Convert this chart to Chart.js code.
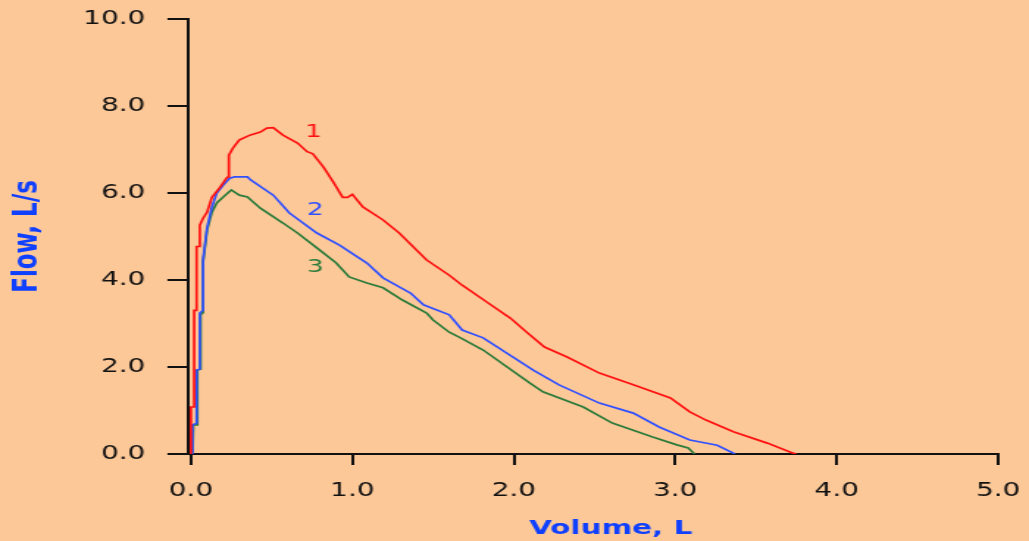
<!DOCTYPE html>
<html>
<head>
<meta charset="utf-8">
<script src="https://cdn.jsdelivr.net/npm/chart.js@4/dist/chart.umd.min.js"></script>
<style>
    html, body { margin: 0; padding: 0; background: #fcc898; overflow: hidden; }
    /* the reference is stretched sideways, so draw narrow and scale up */
    #wrap { width: 700px; height: 541px; transform: scaleX(1.47); transform-origin: 0 0; }
</style>
</head>
<body>
<div id="wrap"><canvas id="flowChart"></canvas></div>
<script>
// Flow-volume curves
const vol1  = [0, 0, 0.02, 0.02, 0.035, 0.035, 0.055, 0.055, 0.075, 0.1, 0.13, 0.18, 0.22, 0.23, 0.235, 0.26, 0.30, 0.365, 0.43, 0.47, 0.51, 0.57, 0.66, 0.72, 0.755, 0.82, 0.88, 0.94, 0.97, 1.0, 1.065, 1.19, 1.29, 1.46, 1.6, 1.68, 1.83, 1.98, 2.08, 2.19, 2.33, 2.53, 2.74, 2.97, 3.09, 3.19, 3.36, 3.57, 3.73, 3.75];
const flow1 = [0, 1.08, 1.08, 3.3, 3.3, 4.77, 4.77, 5.26, 5.42, 5.56, 5.9, 6.13, 6.34, 6.37, 6.87, 7.03, 7.22, 7.33, 7.40, 7.49, 7.5, 7.33, 7.15, 6.95, 6.9, 6.6, 6.26, 5.9, 5.9, 5.97, 5.68, 5.38, 5.08, 4.46, 4.11, 3.88, 3.5, 3.12, 2.8, 2.46, 2.23, 1.86, 1.59, 1.29, 0.97, 0.78, 0.51, 0.25, 0.02, 0];

const vol2  = [0.005, 0.01, 0.035, 0.035, 0.055, 0.055, 0.075, 0.075, 0.1, 0.13, 0.16, 0.2, 0.24, 0.27, 0.35, 0.37, 0.51, 0.61, 0.78, 0.92, 1.09, 1.19, 1.29, 1.36, 1.44, 1.6, 1.68, 1.81, 2.12, 2.28, 2.53, 2.74, 2.9, 3.09, 3.26, 3.37];
const flow2 = [0, 0.67, 0.7, 1.93, 1.95, 3.24, 3.3, 4.46, 5.2, 5.68, 6.0, 6.18, 6.34, 6.37, 6.37, 6.3, 5.95, 5.54, 5.08, 4.8, 4.39, 4.05, 3.84, 3.7, 3.43, 3.2, 2.85, 2.67, 1.93, 1.59, 1.17, 0.94, 0.62, 0.32, 0.2, 0];

const vol3  = [0.01, 0.015, 0.04, 0.04, 0.06, 0.06, 0.075, 0.075, 0.1, 0.13, 0.16, 0.2, 0.25, 0.3, 0.35, 0.43, 0.57, 0.66, 0.78, 0.9, 0.98, 1.09, 1.19, 1.31, 1.46, 1.5, 1.6, 1.67, 1.81, 2.1, 2.18, 2.43, 2.61, 2.86, 3.01, 3.08, 3.12];
const flow3 = [0, 0.67, 0.67, 1.93, 1.95, 3.2, 3.25, 4.41, 5.15, 5.56, 5.77, 5.91, 6.07, 5.95, 5.91, 5.65, 5.31, 5.08, 4.74, 4.39, 4.07, 3.93, 3.82, 3.54, 3.24, 3.08, 2.8, 2.67, 2.39, 1.63, 1.43, 1.08, 0.71, 0.39, 0.21, 0.14, 0];

const xTicks = [0, 1, 2, 3, 4, 5];
const yTicks = [0, 2, 4, 6, 8, 10];

// trial numbers written next to the curves (volume, flow)
const trialNames = ['1', '2', '3'];
const trialVol   = [0.76, 0.77, 0.77];
const trialFlow  = [7.4, 5.61, 4.28];

const xTitle = 'Volume, L';
const lineColors = ['#ff1010', '#3050ff', '#2a7a3a'];

function toPoints(xs, ys) {
    return xs.map((x, i) => ({ x: x, y: ys[i] }));
}

// draws the 1 / 2 / 3 labels and the volume title (sits a bit right of centre)
const extraText = {
    id: 'extraText',
    afterDraw(chart) {
        const c = chart.ctx;
        const xs = chart.scales.x, ys = chart.scales.y;
        c.save();
        c.font = '18px "DejaVu Sans"';
        c.textAlign = 'center';
        c.textBaseline = 'middle';
        trialNames.forEach((t, i) => {
            c.fillStyle = lineColors[i];
            c.fillText(t, xs.getPixelForValue(trialVol[i]), ys.getPixelForValue(trialFlow[i]));
        });
        c.font = 'bold 20px "DejaVu Sans"';
        c.fillStyle = '#1040ff';
        c.fillText(xTitle, (xs.left + xs.right) / 2 + 12, chart.height - 12);
        c.restore();
    }
};

const tickFont = { family: 'DejaVu Sans', size: 19 };

new Chart(document.getElementById('flowChart'), {
    type: 'line',
    data: {
        datasets: [
            { data: toPoints(vol1, flow1), borderColor: lineColors[0] },
            { data: toPoints(vol2, flow2), borderColor: lineColors[1] },
            { data: toPoints(vol3, flow3), borderColor: lineColors[2] }
        ]
    },
    options: {
        responsive: true,
        maintainAspectRatio: false,
        animation: false,
        devicePixelRatio: 1,
        layout: { padding: { left: 0, top: 19, right: 21, bottom: 0 } },
        elements: {
            line: { borderWidth: 1.7, tension: 0, fill: false },
            point: { radius: 0, hoverRadius: 0 }
        },
        plugins: { legend: { display: false }, tooltip: { enabled: false } },
        scales: {
            x: {
                type: 'linear',
                min: -0.018,
                max: 5,
                afterBuildTicks: s => { s.ticks = xTicks.map(v => ({ value: v })); },
                afterFit: s => { s.height = 87; s.paddingLeft = 0; s.paddingRight = 0; },
                border: { color: '#111', width: 2 },
                grid: { drawOnChartArea: false, color: '#111', lineWidth: 2, tickLength: 11 },
                ticks: { color: '#111', font: tickFont, padding: 15, maxRotation: 0, callback: v => v.toFixed(1) }
            },
            y: {
                type: 'linear',
                min: 0,
                max: 10,
                afterBuildTicks: s => { s.ticks = yTicks.map(v => ({ value: v })); },
                afterFit: s => { s.width = 127.9; s.paddingTop = 0; s.paddingBottom = 0; },
                border: { color: '#111', width: 2 },
                grid: { drawOnChartArea: false, color: '#111', lineWidth: 2, tickLength: 14 },
                ticks: { color: '#111', font: tickFont, padding: 15, callback: v => v.toFixed(1) },
                title: { display: true, text: 'Flow, L/s', color: '#1040ff', font: { family: 'DejaVu Sans', size: 23, weight: 'bold', lineHeight: 1.2 }, padding: { top: 5, bottom: 0 } }
            }
        }
    },
    plugins: [extraText]
});
</script>
</body>
</html>
